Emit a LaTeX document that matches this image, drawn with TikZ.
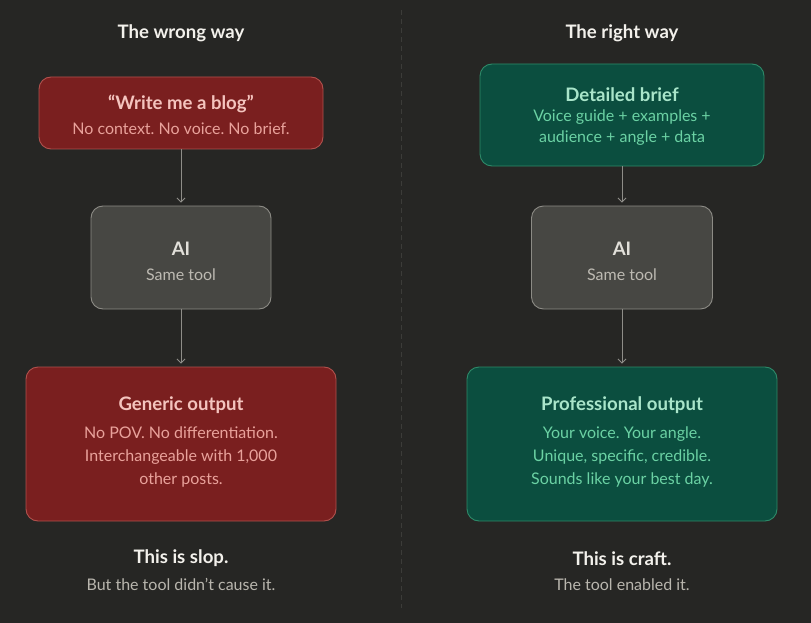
\documentclass[tikz,border=0pt]{standalone}
\usepackage{fontspec}
\setmainfont{Lato}
\usetikzlibrary{arrows.meta}
\frenchspacing
\definecolor{bg}{HTML}{262624}
\definecolor{divc}{HTML}{3C3C39}
\definecolor{redfill}{HTML}{7A1F1F}
\definecolor{redline}{HTML}{B0514D}
\definecolor{redtitle}{HTML}{F4C4BE}
\definecolor{redsub}{HTML}{E9A29B}
\definecolor{grnfill}{HTML}{0B4E3F}
\definecolor{grnline}{HTML}{2E8A69}
\definecolor{grntitle}{HTML}{A9E5CA}
\definecolor{grnsub}{HTML}{6BD2A4}
\definecolor{gryfill}{HTML}{474743}
\definecolor{gryline}{HTML}{8C8B85}
\definecolor{grytitle}{HTML}{E2E0DA}
\definecolor{grysub}{HTML}{BDBAB2}
\definecolor{headc}{HTML}{F3F1EC}
\definecolor{footsub}{HTML}{B9B6AE}
\definecolor{arrc}{HTML}{8E8D88}
\tikzset{
  box/.style={rounded corners=12pt, line width=0.9pt},
  redbox/.style={box, fill=redfill, draw=redline},
  grnbox/.style={box, fill=grnfill, draw=grnline},
  grybox/.style={box, fill=gryfill, draw=gryline},
  ttl/.style={font=\fontsize{18.6}{20}\selectfont\bfseries, inner sep=0pt},
  sub/.style={font=\fontsize{16}{23}\selectfont, inner sep=0pt, align=center},
  conn/.style={draw=arrc, line width=0.8pt, -{Straight Barb[length=4pt,width=8pt,line width=0.9pt]}, shorten >=3pt},
}
\begin{document}
\begin{tikzpicture}[x=1pt,y=-1pt]
\fill[bg] (0,0) rectangle (811,623);
\useasboundingbox (0,0) rectangle (811,623);
\draw[divc, line width=1pt, dash pattern=on 5pt off 4pt] (401,10) -- (401,608);

% headings
\node[ttl, text=headc] (hl) at (181,33.5) {The wrong way};
\node[ttl, text=headc] (hr) at (622,33.5) {The right way};

% left column
\node[redbox, minimum width=284pt, minimum height=72pt] (l1) at (181,113) {};
\node[ttl, text=redtitle] (l1t) at (181,103.5) {“Write me a blog”};
\node[sub, text=redsub] (l1s) at (181,128.5) {No context. No voice. No brief.};

\node[grybox, minimum width=180pt, minimum height=103pt] (l2) at (181,257.5) {};
\node[ttl, text=grytitle] (l2t) at (181,248.5) {AI};
\node[sub, text=grysub] (l2s) at (181,274.5) {Same tool};

\node[redbox, minimum width=310pt, minimum height=154pt] (l3) at (181,444) {};
\node[ttl, text=redtitle] (l3t) at (181,405.5) {Generic output};
\node[sub, text=redsub, anchor=north] (l3s) at (181,427) {No POV. No differentiation.\\Interchangeable with 1,000\\other posts.};

\node[ttl, text=headc] (lf1) at (181,558.5) {This is slop.};
\node[sub, text=footsub] (lf2) at (181,584.5) {But the tool didn’t cause it.};

% right column
\node[grnbox, minimum width=284pt, minimum height=102pt] (r1) at (622,115) {};
\node[ttl, text=grntitle] (r1t) at (622,94.5) {Detailed brief};
\node[sub, text=grnsub, font=\fontsize{16}{21}\selectfont, anchor=north] (r1s) at (622,110) {Voice guide + examples +\\audience + angle + data};

\node[grybox, minimum width=181pt, minimum height=103pt] (r2) at (622,257.5) {};
\node[ttl, text=grytitle] (r2t) at (622,248.5) {AI};
\node[sub, text=grysub] (r2s) at (622,274.5) {Same tool};

\node[grnbox, minimum width=310pt, minimum height=154pt] (r3) at (622,444) {};
\node[ttl, text=grntitle] (r3t) at (622,405.5) {Professional output};
\node[sub, text=grnsub, anchor=north] (r3s) at (622,427) {Your voice. Your angle.\\Unique, specific, credible.\\Sounds like your best day.};

\node[ttl, text=headc] (rf1) at (622,558.5) {This is craft.};
\node[sub, text=footsub] (rf2) at (622,584.5) {The tool enabled it.};

% connectors
\draw[conn] (l1.south) -- (l2.north);
\draw[conn] (l2.south) -- (l3.north);
\draw[conn] (r1.south) -- (r2.north);
\draw[conn] (r2.south) -- (r3.north);
\end{tikzpicture}
\end{document}
